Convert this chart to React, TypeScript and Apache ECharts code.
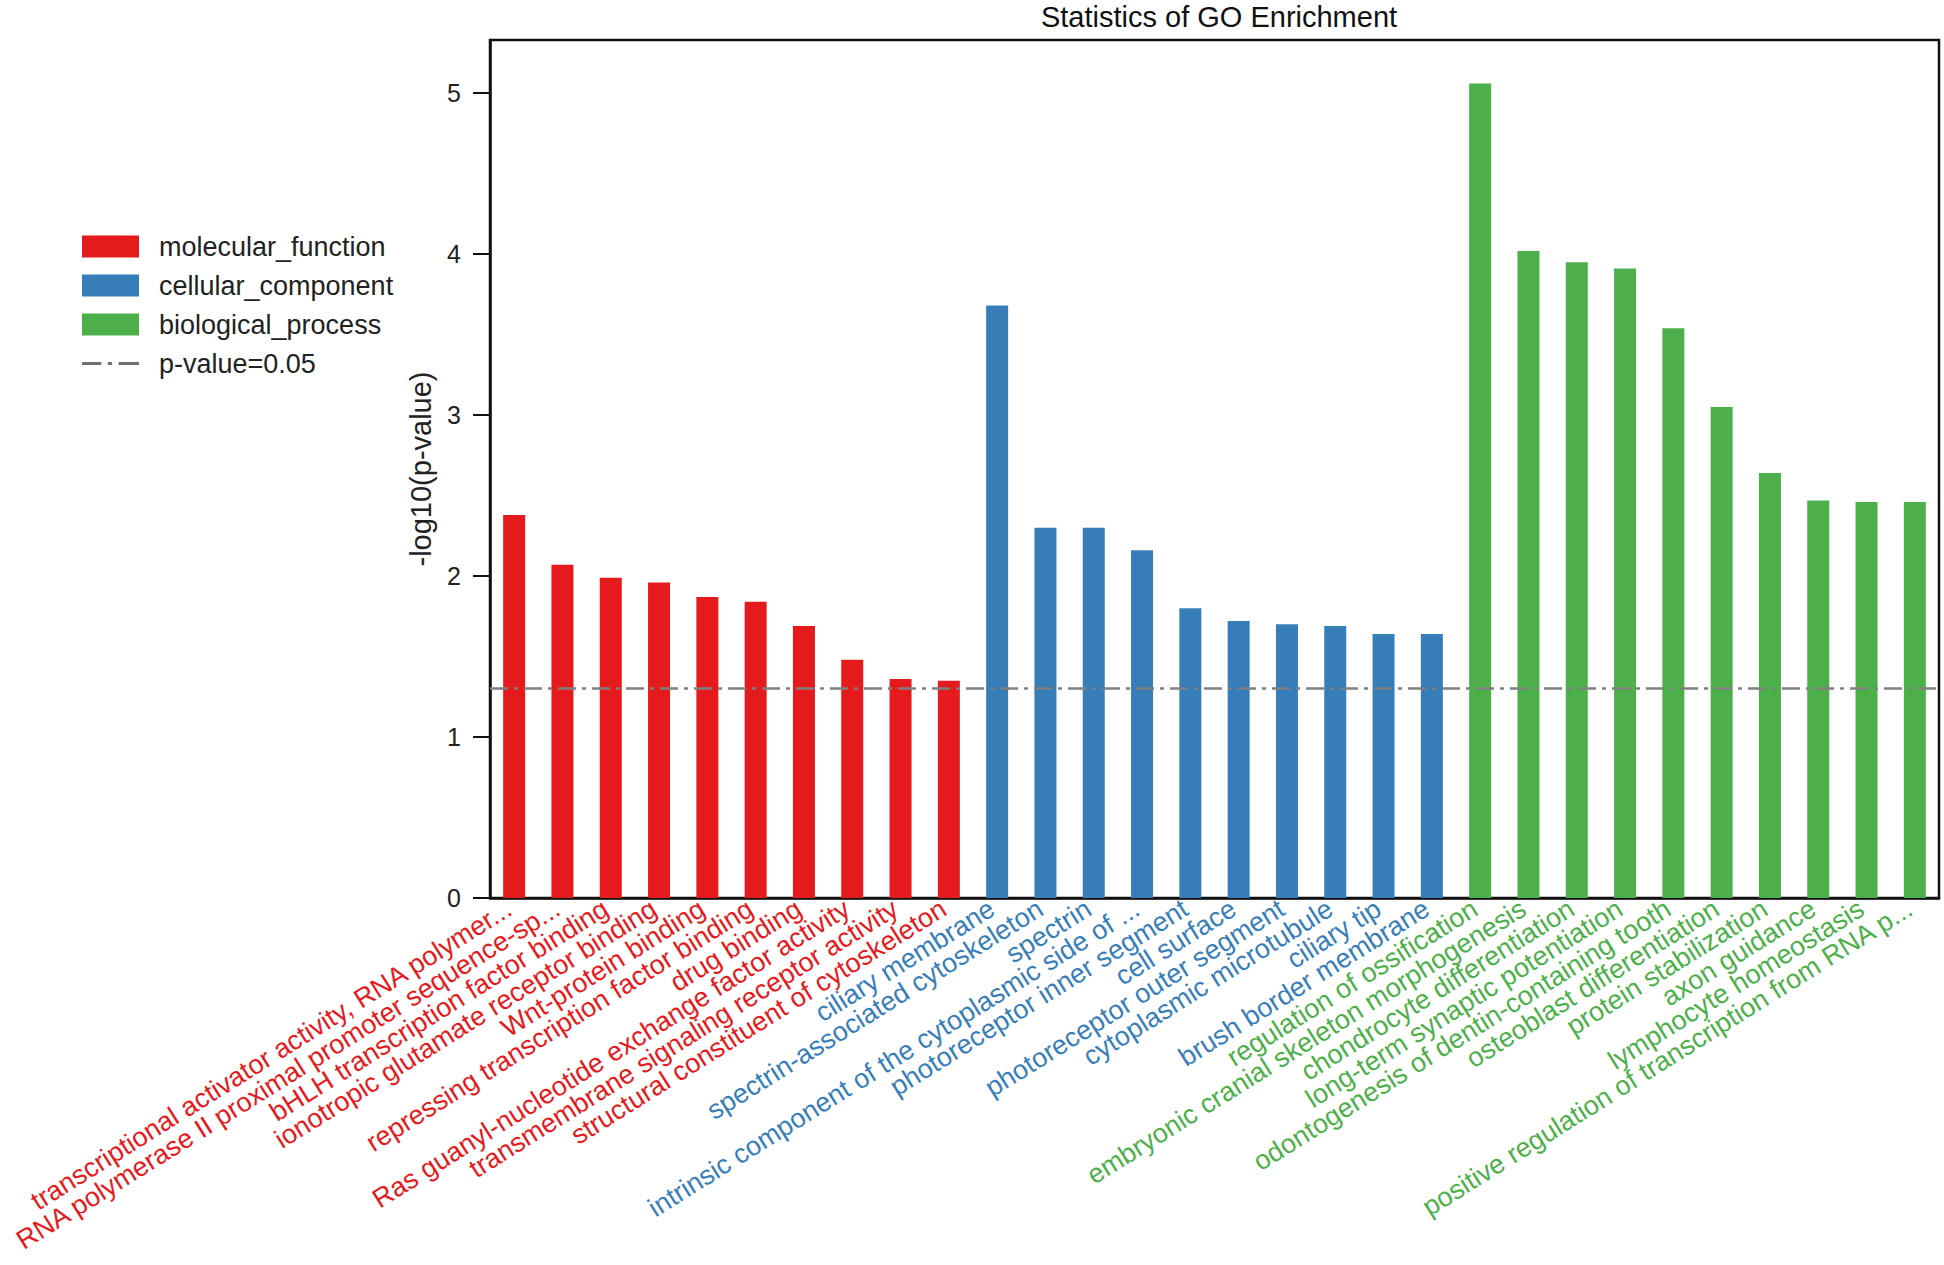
import React, { useEffect, useRef } from "react";
import * as echarts from "echarts";

const mfTerms = [
  "transcriptional activator activity, RNA polymer...",
  "RNA polymerase II proximal promoter sequence-sp...",
  "bHLH transcription factor binding",
  "ionotropic glutamate receptor binding",
  "Wnt-protein binding",
  "repressing transcription factor binding",
  "drug binding",
  "Ras guanyl-nucleotide exchange factor activity",
  "transmembrane signaling receptor activity",
  "structural constituent of cytoskeleton",
];
const mfValues = [2.38, 2.07, 1.99, 1.96, 1.87, 1.84, 1.69, 1.48, 1.36, 1.35];

const ccTerms = [
  "ciliary membrane",
  "spectrin-associated cytoskeleton",
  "spectrin",
  "intrinsic component of the cytoplasmic side of ...",
  "photoreceptor inner segment",
  "cell surface",
  "photoreceptor outer segment",
  "cytoplasmic microtubule",
  "ciliary tip",
  "brush border membrane",
];
const ccValues = [3.68, 2.3, 2.3, 2.16, 1.8, 1.72, 1.7, 1.69, 1.64, 1.64];

const bpTerms = [
  "regulation of ossification",
  "embryonic cranial skeleton morphogenesis",
  "chondrocyte differentiation",
  "long-term synaptic potentiation",
  "odontogenesis of dentin-containing tooth",
  "osteoblast differentiation",
  "protein stabilization",
  "axon guidance",
  "lymphocyte homeostasis",
  "positive regulation of transcription from RNA p...",
];
const bpValues = [5.06, 4.02, 3.95, 3.91, 3.54, 3.05, 2.64, 2.47, 2.46, 2.46];

const groupNames = ["molecular_function", "cellular_component", "biological_process"];
const groupColors = ["#e41a1c", "#377eb8", "#4daf4a"];
const thresholdName = "p-value=0.05";
const thresholdValue = 1.301;
const yMax = 5.33;

const FONT = "'Liberation Sans', Arial, sans-serif";
const DASHDOT_ICON = "path://M0,0h18v3h-18zM24,0h4v3h-4zM34,0h19v3h-19z";

export default function App() {
  const ref = useRef<HTMLDivElement>(null);

  useEffect(() => {
    if (!ref.current) return;
    const chart = echarts.init(ref.current, undefined, { renderer: "svg" });

    const groups = [
      { terms: mfTerms, values: mfValues },
      { terms: ccTerms, values: ccValues },
      { terms: bpTerms, values: bpValues },
    ];
    const categories: string[] = [];
    const catGroup: number[] = [];
    groups.forEach((g, gi) => {
      g.terms.forEach((t) => {
        categories.push(t);
        catGroup.push(gi);
      });
    });

    const barSeries = groups.map((g, gi) => {
      const data: (number | string)[] = categories.map(() => "-");
      let offset = 0;
      for (let k = 0; k < gi; k++) offset += groups[k].terms.length;
      g.values.forEach((v, i) => {
        data[offset + i] = v;
      });
      const s: any = {
        name: groupNames[gi],
        type: "bar",
        stack: "all",
        barWidth: 22,
        itemStyle: { color: groupColors[gi] },
        data,
      };
      if (gi === 0) {
        s.markLine = {
          silent: true,
          symbol: "none",
          label: { show: false },
          lineStyle: { color: "#808080", width: 2.5, type: [18, 6, 4, 6] },
          data: [{ yAxis: thresholdValue }],
        };
      }
      return s;
    });

    const option: any = {
      animation: false,
      backgroundColor: "#fff",
      title: {
        text: "Statistics of GO Enrichment",
        left: 1214,
        textAlign: "center",
        top: -3,
        textStyle: { fontFamily: FONT, fontSize: 29, fontWeight: "normal", color: "#111" },
      },
      legend: {
        orient: "vertical",
        left: 82,
        top: 233,
        padding: 0,
        itemWidth: 57,
        itemHeight: 22,
        itemGap: 12,
        textStyle: { fontFamily: FONT, fontSize: 27, color: "#222", padding: [0, 0, 0, 15] },
        data: [
          { name: groupNames[0], icon: "rect" },
          { name: groupNames[1], icon: "rect" },
          { name: groupNames[2], icon: "rect" },
          { name: thresholdName, icon: DASHDOT_ICON },
        ],
      },
      grid: {
        left: 490,
        right: 5,
        top: 40,
        bottom: 367,
        outerBoundsMode: "none",
        containLabel: false,
        show: true,
        borderColor: "#111",
        borderWidth: 2.5,
        backgroundColor: "transparent",
      },
      xAxis: {
        type: "category",
        data: categories,
        axisLine: { lineStyle: { color: "#111", width: 2.5 } },
        axisTick: { alignWithLabel: true, length: 19, lineStyle: { color: "#111", width: 2 } },
        axisLabel: {
          interval: 0,
          rotate: 32,
          margin: 5,
          padding: [0, 6, 0, 0],
          fontFamily: FONT,
          fontSize: 27,
          color: (_v: any, idx: number) => groupColors[catGroup[idx]],
        },
      },
      yAxis: {
        type: "value",
        min: 0,
        max: yMax,
        interval: 1,
        name: "-log10(p-value)",
        nameLocation: "middle",
        nameGap: 55,
        nameTextStyle: { fontFamily: FONT, fontSize: 29, color: "#222" },
        splitLine: { show: false },
        axisLine: { show: true, lineStyle: { color: "#111", width: 2.5 } },
        axisTick: { show: true, length: 17, lineStyle: { color: "#111", width: 2 } },
        axisLabel: {
          showMaxLabel: false,
          margin: 29,
          fontFamily: FONT,
          fontSize: 25,
          color: "#222",
        },
      },
      series: [
        ...barSeries,
        {
          name: thresholdName,
          type: "line",
          symbol: "none",
          data: [],
          itemStyle: { color: "#707070" },
          lineStyle: { color: "#707070", width: 2.5, type: [18, 6, 4, 6] },
        },
      ],
    };

    chart.setOption(option);
    return () => chart.dispose();
  }, []);

  return (
    <div
      ref={ref}
      style={{ position: "fixed", left: 0, top: 0, width: 1944, height: 1265, background: "#fff" }}
    />
  );
}
